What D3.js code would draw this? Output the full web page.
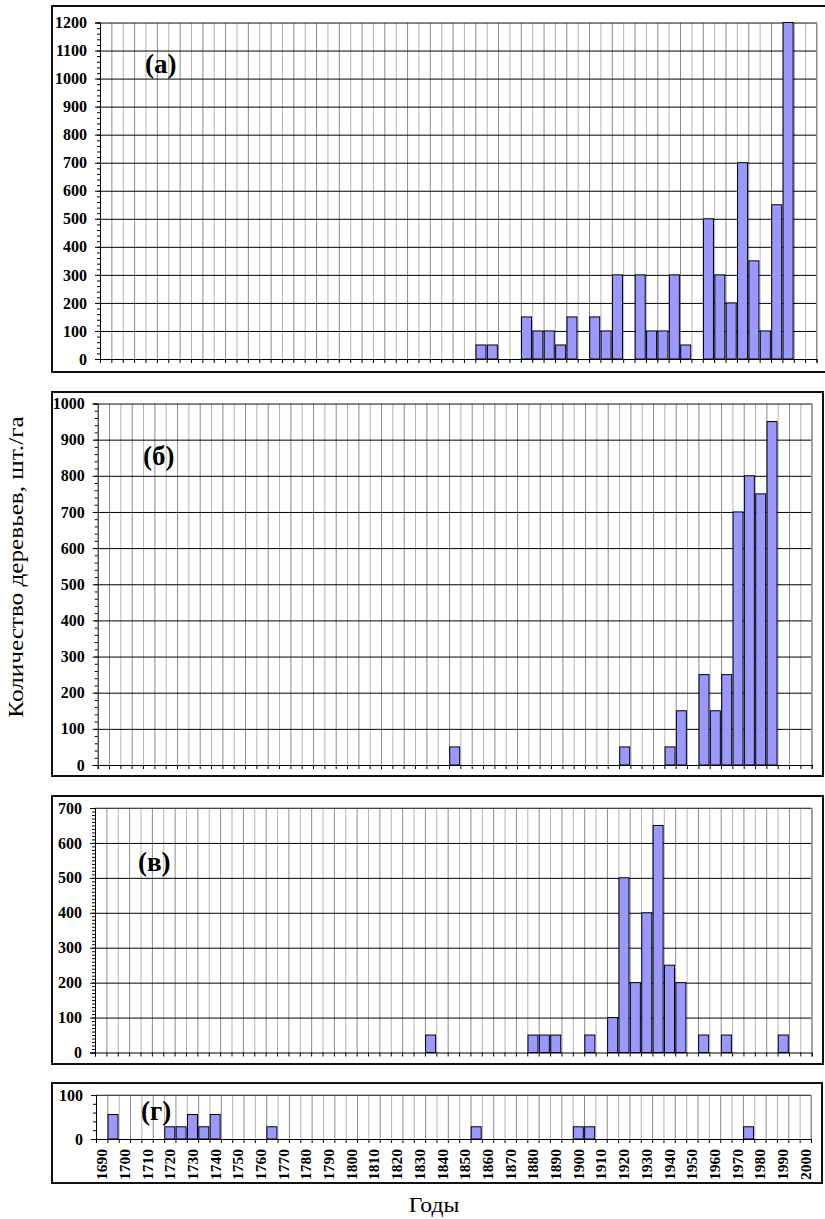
<!DOCTYPE html>
<html>
<head>
<meta charset="utf-8">
<script src="https://cdn.jsdelivr.net/npm/d3@7"></script>
<style>
  body { margin: 0; background: #fff; }
  svg { display: block; }
</style>
</head>
<body>
<svg id="chart"></svg>
<script>
// categories: 5-year classes
var categories = [1690,1695,1700,1705,1710,1715,1720,1725,1730,1735,1740,1745,1750,1755,1760,1765,1770,1775,1780,1785,
  1790,1795,1800,1805,1810,1815,1820,1825,1830,1835,1840,1845,1850,1855,1860,1865,1870,1875,1880,1885,
  1890,1895,1900,1905,1910,1915,1920,1925,1930,1935,1940,1945,1950,1955,1960,1965,1970,1975,1980,1985,
  1990,1995,2000];
var xTickLabels = ["1690","1700","1710","1720","1730","1740","1750","1760","1770","1780","1790","1800","1810","1820","1830","1840",
  "1850","1860","1870","1880","1890","1900","1910","1920","1930","1940","1950","1960","1970","1980","1990","2000"];

// (а)
var yearsA  = [1855,1860,1875,1880,1885,1890,1895,1905,1910,1915,1925,1930,1935,1940,1945,1955,1960,1965,1970,1975,1980,1985,1990];
var valuesA = [50,50,150,100,100,50,150,150,100,300,300,100,100,300,50,500,300,200,700,350,100,550,1200];
// (б)
var yearsB  = [1845,1920,1940,1945,1955,1960,1965,1970,1975,1980,1985];
var valuesB = [50,50,50,150,250,150,250,700,800,750,950];
// (в)
var yearsV  = [1835,1880,1885,1890,1905,1915,1920,1925,1930,1935,1940,1945,1955,1965,1990];
var valuesV = [50,50,50,50,50,100,500,200,400,650,250,200,50,50,50];
// (г)
var yearsG  = [1695,1720,1725,1730,1735,1740,1765,1855,1900,1905,1975];
var valuesG = [55.6,27.8,27.8,55.6,27.8,55.6,27.8,27.8,27.8,27.8,27.8];

var W = 825, H = 1219;
var serif = "'Liberation Serif', 'Times New Roman', serif";
var svg = d3.select("#chart").attr("width", W).attr("height", H);

// panel layout
var panels = [
  { tag: "(а)", years: yearsA, values: valuesA, max: 1200, minor: 20,
    frame: [52, 6, 830, 372], plot: [100, 816.5, 22.5, 359], tagPos: [145, 73], labels: false },
  { tag: "(б)", years: yearsB, values: valuesB, max: 1000, minor: 20,
    frame: [52, 392, 823, 776], plot: [97.7, 811.7, 403.5, 765], tagPos: [143, 465], labels: false },
  { tag: "(в)", years: yearsV, values: valuesV, max: 700, minor: 10,
    frame: [52, 796, 823, 1064], plot: [95, 811.7, 808, 1052.5], tagPos: [138, 871], labels: false },
  { tag: "(г)", years: yearsG, values: valuesG, max: 100, minor: 20,
    frame: [52, 1083, 822, 1183], plot: [96, 811, 1095, 1139], tagPos: [141, 1120], labels: true }
];

panels.forEach(function(p) {
  var g = svg.append("g");
  var x0 = p.plot[0], x1 = p.plot[1], yTop = p.plot[2], yBot = p.plot[3];

  // frame
  g.append("rect")
    .attr("x", p.frame[0]).attr("y", p.frame[1])
    .attr("width", p.frame[2] - p.frame[0]).attr("height", p.frame[3] - p.frame[1])
    .attr("fill", "#fff").attr("stroke", "#111").attr("stroke-width", 2);

  var x = d3.scaleBand().domain(categories).range([x0, x1]).padding(0);
  var xb = d3.scaleLinear().domain([0, categories.length]).range([x0, x1]);
  var y = d3.scaleLinear().domain([0, p.max]).range([yBot, yTop]);

  // vertical grid at class boundaries
  var vgrid = g.append("g").attr("transform", "translate(0," + yBot + ")")
    .call(d3.axisBottom(xb).tickValues(d3.range(1, categories.length + 1)).tickSize(-(yBot - yTop)).tickFormat(""));
  vgrid.select(".domain").remove();
  vgrid.selectAll("line").attr("stroke", function(d) { return d % 2 ? "#8c8c8c" : "#b4b4b4"; });

  // horizontal grid
  var hgrid = g.append("g").attr("transform", "translate(" + x0 + ",0)")
    .call(d3.axisLeft(y).tickValues(d3.range(100, p.max + 1, 100)).tickSize(-(x1 - x0)).tickFormat(""));
  hgrid.select(".domain").remove();
  hgrid.selectAll("line").attr("stroke", "#000").attr("stroke-width", 1);

  // plot border top/right
  g.append("path")
    .attr("d", "M" + x0 + "," + yTop + "H" + x1 + "V" + yBot)
    .attr("fill", "none").attr("stroke", "#8c8c8c");

  // bars
  var bw = x.bandwidth();
  var data = p.years.map(function(yr, k) { return { year: yr, value: p.values[k] }; });
  g.append("g").selectAll("rect").data(data).enter().append("rect")
    .attr("x", function(d) { return x(d.year) + bw * 0.06; })
    .attr("width", bw * 0.88)
    .attr("y", function(d) { return y(Math.min(d.value, p.max)); })
    .attr("height", function(d) { return yBot - y(Math.min(d.value, p.max)); })
    .attr("fill", "#9999ff").attr("stroke", "#000").attr("stroke-width", 1);

  // x axis ticks
  var xAxis = g.append("g").attr("transform", "translate(0," + yBot + ")")
    .call(d3.axisBottom(xb).tickValues(d3.range(0, categories.length + 1)).tickSize(4).tickFormat(""));
  xAxis.select(".domain").attr("stroke", "#000");
  xAxis.selectAll("line").attr("stroke", "#000");

  // y axis minor ticks
  g.append("g").attr("transform", "translate(" + x0 + ",0)")
    .call(d3.axisLeft(y).tickValues(d3.range(0, p.max + 1, p.minor)).tickSize(3).tickFormat(""))
    .select(".domain").remove();

  // y axis
  var yAxis = g.append("g").attr("transform", "translate(" + x0 + ",0)")
    .call(d3.axisLeft(y).tickValues(d3.range(0, p.max + 1, 100)).tickSize(5).tickPadding(8).tickFormat(d3.format("d")));
  yAxis.select(".domain").attr("stroke", "#000");
  yAxis.selectAll("text")
    .attr("font-family", serif)
    .attr("font-weight", "bold").attr("font-size", 16).attr("fill", "#000");

  // x labels (only the bottom panel)
  if (p.labels) {
    var lab = g.append("g").attr("transform", "translate(0," + yBot + ")")
      .call(d3.axisBottom(x).tickValues(xTickLabels.map(Number)).tickSize(0).tickFormat(d3.format("d")));
    lab.select(".domain").remove();
    lab.selectAll("text")
      .attr("font-family", serif)
      .attr("font-weight", "bold").attr("font-size", 15.5).attr("fill", "#000")
      .attr("text-anchor", "end")
      .attr("transform", "rotate(-90)")
      .attr("x", -10).attr("y", 0).attr("dy", "0.35em");
  }

  // panel tag
  g.append("text")
    .attr("x", p.tagPos[0]).attr("y", p.tagPos[1])
    .attr("font-family", serif)
    .attr("font-weight", "bold").attr("font-size", 27)
    .text(p.tag);
});

// axis titles
svg.append("text")
  .attr("transform", "translate(23,567) rotate(-90) scale(1.2,1)")
  .attr("text-anchor", "middle")
  .attr("font-family", serif)
  .attr("font-size", 21)
  .text("Количество деревьев, шт./га");

svg.append("text")
  .attr("transform", "translate(434,1212) scale(1.18,1)")
  .attr("text-anchor", "middle")
  .attr("font-family", serif)
  .attr("font-size", 20)
  .text("Годы");
</script>
</body>
</html>
